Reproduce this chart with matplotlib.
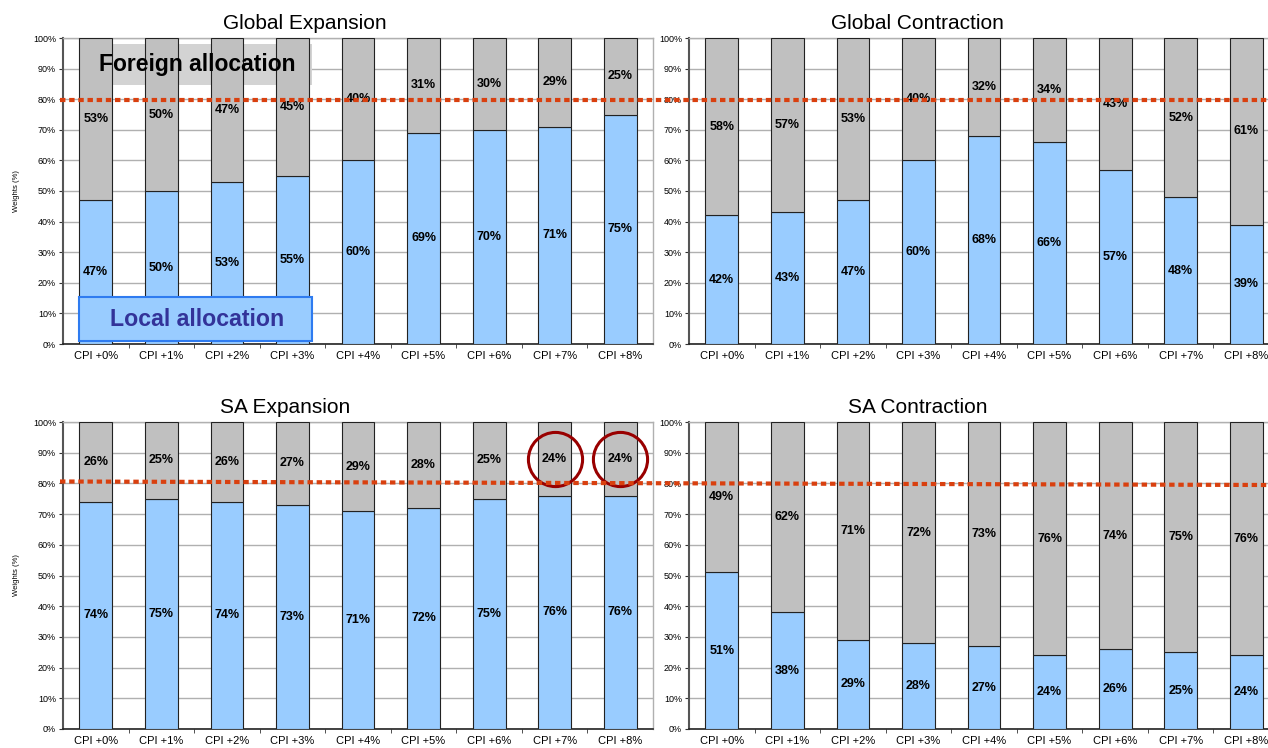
import matplotlib
matplotlib.use("Agg")
import matplotlib.pyplot as plt
from matplotlib.patches import Rectangle
from matplotlib.lines import Line2D
import numpy as np

categories = ['CPI +0%', 'CPI +1%', 'CPI +2%', 'CPI +3%', 'CPI +4%',
              'CPI +5%', 'CPI +6%', 'CPI +7%', 'CPI +8%']

glob_exp_local = [47, 50, 53, 55, 60, 69, 70, 71, 75]
glob_exp_foreign = [53, 50, 47, 45, 40, 31, 30, 29, 25]
glob_con_local = [42, 43, 47, 60, 68, 66, 57, 48, 39]
glob_con_foreign = [58, 57, 53, 40, 32, 34, 43, 52, 61]
sa_exp_local = [74, 75, 74, 73, 71, 72, 75, 76, 76]
sa_exp_foreign = [26, 25, 26, 27, 29, 28, 25, 24, 24]
sa_con_local = [51, 38, 29, 28, 27, 24, 26, 25, 24]
sa_con_foreign = [49, 62, 71, 72, 73, 76, 74, 75, 76]

threshold = 80
circled = [7, 8]   # SA expansion bars that are circled

blue = '#99CCFF'
grey = '#C0C0C0'
red = '#D9400F'

W, H = 1268, 748
fig = plt.figure(figsize=(W / 100, H / 100), dpi=100)
plt.rcParams['font.family'] = ['Liberation Sans', 'DejaVu Sans']


def px_axes(x0, y0, x1, y1):
    return fig.add_axes([x0 / W, 1 - y1 / H, (x1 - x0) / W, (y1 - y0) / H])


panels = [
    (px_axes(63, 38, 653, 344), 'Global Expansion', glob_exp_local, glob_exp_foreign, 0.41, True),
    (px_axes(689, 38, 1279, 344), 'Global Contraction', glob_con_local, glob_con_foreign, 0.387, False),
    (px_axes(63, 422, 653, 729), 'SA Expansion', sa_exp_local, sa_exp_foreign, 0.376, True),
    (px_axes(689, 422, 1279, 729), 'SA Contraction', sa_con_local, sa_con_foreign, 0.387, False),
]

x = np.arange(len(categories))
for ax, title, local, foreign, tx, ylab in panels:
    local = np.array(local)
    foreign = np.array(foreign)
    ax.bar(x, local, width=0.5, color=blue, edgecolor='#222222', linewidth=0.8, zorder=3)
    ax.bar(x, foreign, bottom=local, width=0.5, color=grey, edgecolor='#222222',
           linewidth=0.8, zorder=3)
    for i in range(len(x)):
        ax.text(x[i], local[i] / 2, f'{local[i]}%', ha='center', va='center',
                fontsize=9, fontweight='bold', zorder=5)
        ax.text(x[i], local[i] + foreign[i] / 2, f'{foreign[i]}%', ha='center',
                va='center', fontsize=9, fontweight='bold', zorder=5)
    ax.set_xlim(-0.5, len(x) - 0.5)
    ax.set_ylim(0, 100)
    ax.set_yticks(range(0, 101, 10))
    ax.set_yticklabels([f'{v}%' for v in range(0, 101, 10)], fontsize=6.5)
    ax.set_xticks(x)
    ax.set_xticklabels(categories, fontsize=8)
    ax.set_xticks(np.arange(0.5, len(x) - 0.5), minor=True)
    ax.tick_params(axis='x', which='major', length=0, pad=5)
    ax.tick_params(axis='x', which='minor', length=3, color='#333333')
    ax.tick_params(axis='y', length=3, width=0.8, pad=2, color='#333333')
    ax.grid(axis='y', color='#B0B0B0', linewidth=1.0, zorder=0)
    ax.set_axisbelow(True)
    ax.spines['left'].set_color('#555555')
    ax.spines['left'].set_linewidth(1.5)
    ax.spines['bottom'].set_color('#222222')
    ax.spines['bottom'].set_linewidth(1.2)
    for s in ['top', 'right']:
        ax.spines[s].set_color('#B0B0B0')
        ax.spines[s].set_linewidth(1.0)
    ax.text(tx, 1.015, title, transform=ax.transAxes, ha='center', va='bottom',
            fontsize=15)
    if ylab:
        ax.set_ylabel('Weights (%)', fontsize=5.5, labelpad=9)

# annotation boxes on the first panel
ax0 = panels[0][0]
ax0.add_patch(Rectangle((-0.25, 84.5), 3.55, 13.5, facecolor='#D3D3D3', edgecolor='none', zorder=1))
ax0.text(1.55, 91.2, 'Foreign allocation', ha='center', va='center', fontsize=16.5,
         fontweight='bold', color='black', zorder=6)
ax0.add_patch(Rectangle((-0.25, 1.0), 3.55, 14.5, facecolor=blue, edgecolor='#2E7BF0',
                        linewidth=1.5, zorder=6))
ax0.text(1.55, 8.0, 'Local allocation', ha='center', va='center', fontsize=16.7,
         fontweight='bold', color='#333399', zorder=7)

# circles on SA expansion
ax2 = panels[2][0]
for c in circled:
    ax2.plot([c], [88], marker='o', markersize=39, markerfacecolor='none',
             markeredgecolor='#990000', markeredgewidth=2.2, zorder=8, clip_on=False)

# red dotted 80% lines across both panels
fig.add_artist(Line2D([60 / W, 1], [1 - 99.5 / H, 1 - 99.5 / H], color=red,
                      linewidth=3, linestyle=(0, (1.3, 0.9)), zorder=10))
fig.add_artist(Line2D([60 / W, 1], [1 - 481.5 / H, 1 - 485 / H], color=red,
                      linewidth=3, linestyle=(0, (1.3, 0.9)), zorder=10))

fig.savefig('out.png', dpi=100)
